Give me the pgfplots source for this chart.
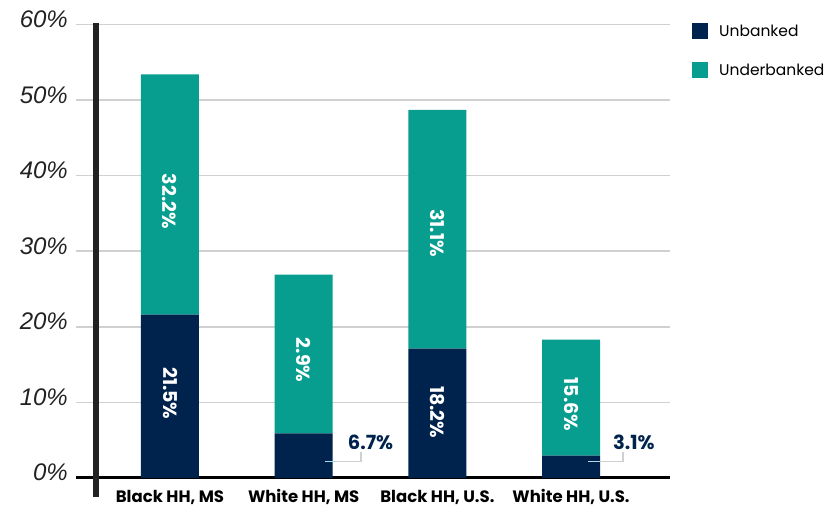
\documentclass[border=0pt]{standalone}
\usepackage{pgfplots}
\pgfplotsset{compat=1.18}
\usepackage{fontspec}
\setmainfont{Poppins}
\newfontfamily\tickfont{Liberation Sans}
\definecolor{navy}{RGB}{0,35,77}
\definecolor{teal2}{RGB}{7,157,143}
\definecolor{gridc}{RGB}{208,208,208}
\definecolor{axc}{RGB}{34,34,34}
\definecolor{leadc}{RGB}{170,220,228}
\begin{document}
\begin{tikzpicture}[x=1pt,y=1pt]
\useasboundingbox (-76,-32) rectangle (756,478);
\begin{axis}[
  at={(0,0)}, anchor=south west,
  scale only axis, width=594pt, height=453.5pt,
  xmin=-0.703, xmax=3.74, ymin=0, ymax=60,
  ybar stacked, bar width=58pt,
  xtick={0,1,2,3},
  xticklabels={{Black HH, MS},{White HH, MS},{Black HH, U.S.},{White HH, U.S.}},
  ytick={0,10,20,30,40,50,60},
  yticklabels={0\%,10\%,20\%,30\%,40\%,50\%,60\%},
  ymajorgrids, grid style={gridc, line width=1.5pt},
  axis x line*=bottom, axis y line*=left,
  x axis line style={-, line width=3pt, black},
  y axis line style={draw=none},
  major tick length=0pt,
  yticklabel style={font=\tickfont\itshape\fontsize{24}{24}\selectfont, color=axc, anchor=base east, inner sep=0pt, xshift=-8pt, yshift=-3pt},
  xticklabel style={font=\bfseries\fontsize{16.5}{16.5}\selectfont, color=black, anchor=base, inner sep=0pt, yshift=-25pt},
  legend style={at={(1.037,1.003)}, anchor=north west, draw=none, fill=none, inner sep=0pt,
    font=\fontsize{15.5}{15.5}\selectfont, row sep=23pt, nodes={inner sep=0pt},
    /tikz/every even column/.append style={column sep=0pt}},
  legend cell align=left,
  legend image code/.code={\fill[#1] (0pt,-8pt) rectangle (16pt,8pt); \path (27pt,0pt);},
]
\addplot[fill=navy, draw=none] coordinates {(0,21.6) (1,5.9) (2,17.1) (3,2.95)};
\addplot[fill=teal2, draw=none] coordinates {(0,31.8) (1,21.0) (2,31.6) (3,15.35)};
\legend{Unbanked,Underbanked}
\coordinate (a1) at (axis cs:0,36.6);
\coordinate (a2) at (axis cs:0,11.2);
\coordinate (b1) at (axis cs:1,15.6);
\coordinate (c1) at (axis cs:2,32.4);
\coordinate (c2) at (axis cs:2,8.7);
\coordinate (d1) at (axis cs:3,9.75);
\coordinate (b2) at (axis cs:1.50,4.73);
\coordinate (d2) at (axis cs:3.47,4.73);
\coordinate (l1) at (axis cs:1.159,2.15);
\coordinate (l2) at (axis cs:1.249,2.15);
\coordinate (l3) at (axis cs:1.429,2.15);
\coordinate (l4) at (axis cs:1.429,3.48);
\coordinate (m1) at (axis cs:3.126,2.15);
\coordinate (m2) at (axis cs:3.216,2.15);
\coordinate (m3) at (axis cs:3.388,2.15);
\coordinate (m4) at (axis cs:3.388,3.48);
\end{axis}
\tikzset{vl/.style={rotate=-90, white, font=\bfseries\fontsize{19}{19}\selectfont}}
\node[vl] at (a1) {32.2\%};
\node[vl] at (a2) {21.5\%};
\node[vl] at (b1) {2.9\%};
\node[vl] at (c1) {31.1\%};
\node[vl] at (c2) {18.2\%};
\node[vl] at (d1) {15.6\%};
\node[navy, font=\bfseries\fontsize{19.5}{19.5}\selectfont] at (b2) {6.7\%};
\node[navy, font=\bfseries\fontsize{19.5}{19.5}\selectfont] at (d2) {3.1\%};
\draw[leadc, line width=1.2pt] (l1) -- (l2);
\draw[gridc, line width=1.2pt] (l2) -- (l3) -- (l4);
\draw[leadc, line width=1.2pt] (m1) -- (m2);
\draw[gridc, line width=1.2pt] (m2) -- (m3) -- (m4);
\draw[axc, line width=5.5pt] (20,-19) -- (20,455);
\end{tikzpicture}
\end{document}
